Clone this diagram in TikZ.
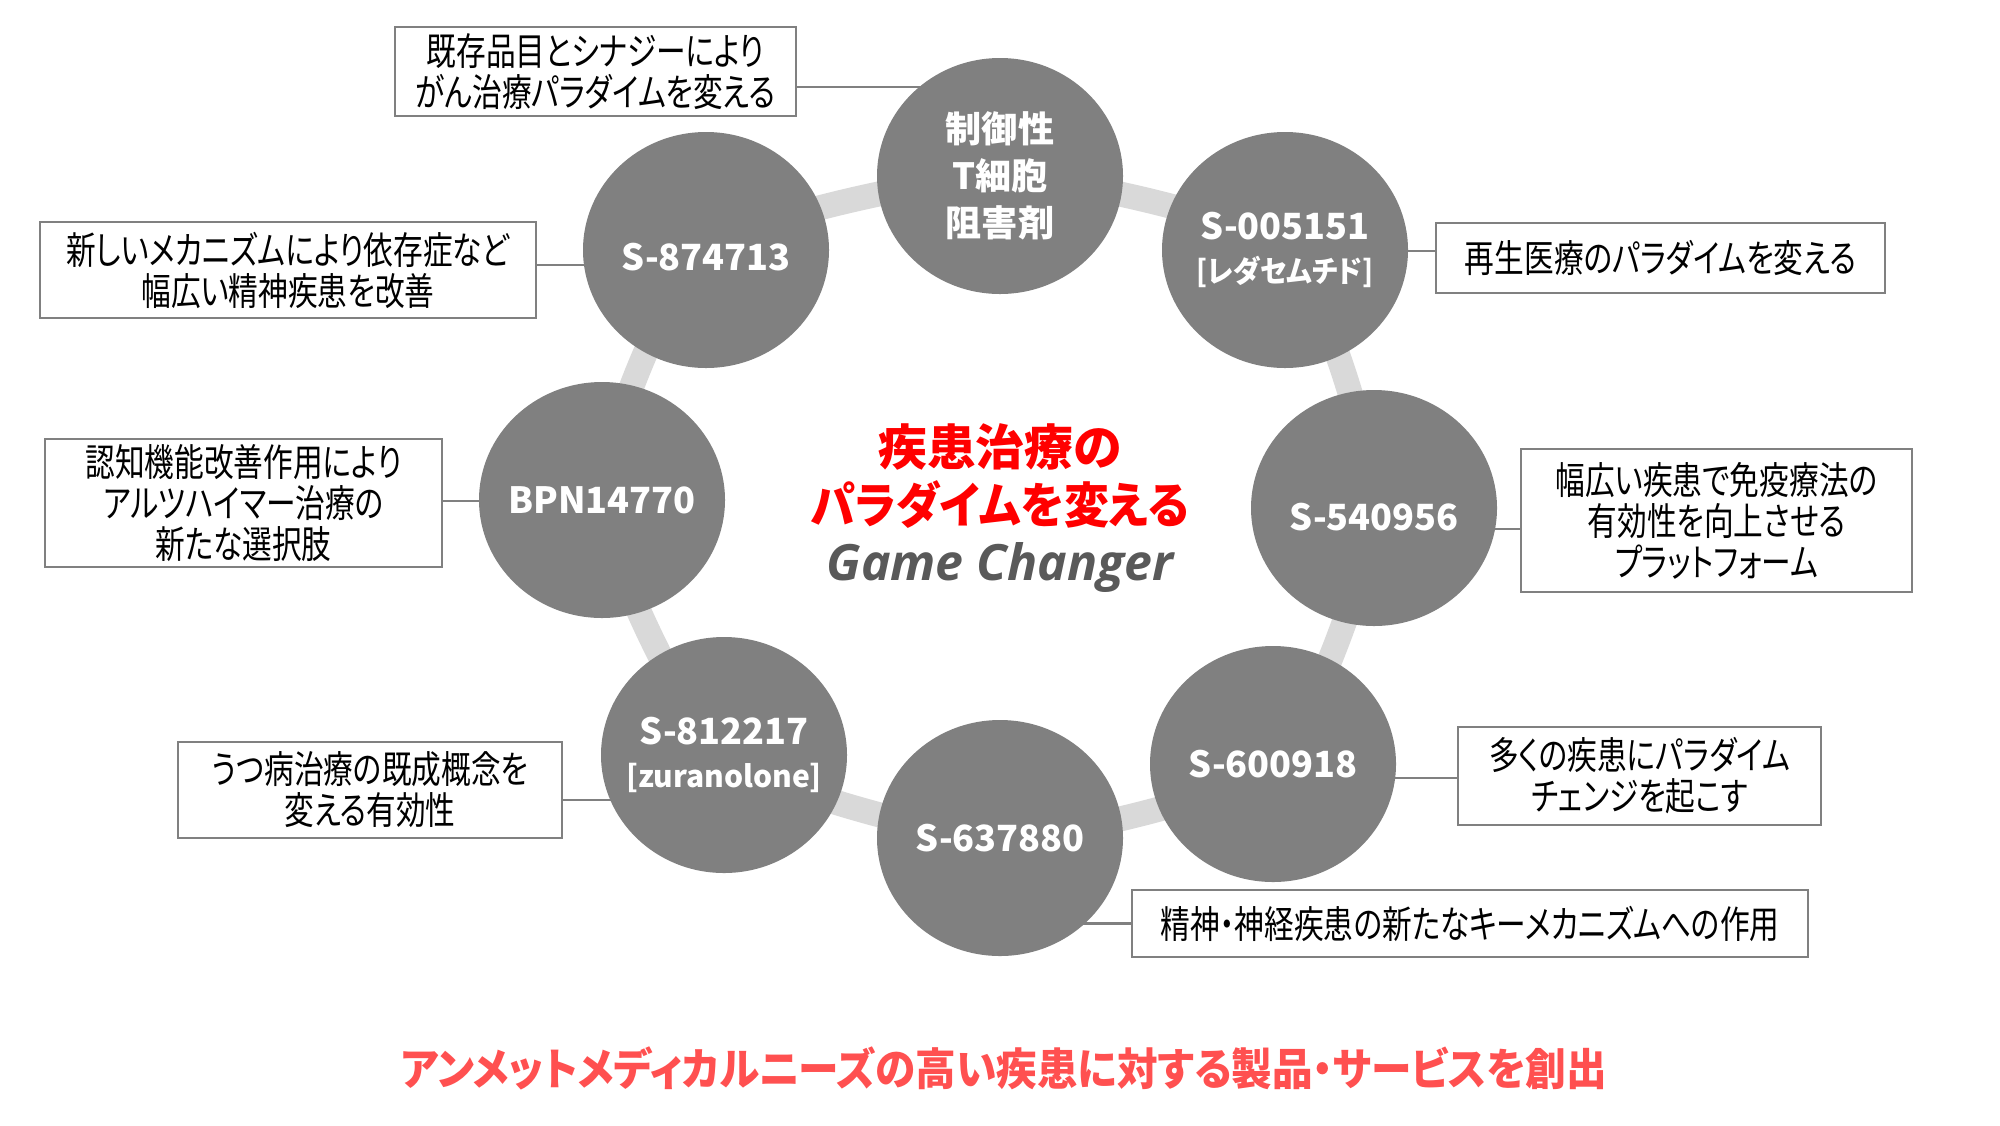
\documentclass[tikz,border=0pt]{standalone}
\usepackage{fontspec}
\usetikzlibrary{shapes.geometric,calc}
\setmainfont{Noto Sans CJK JP}
\newfontfamily\jp[RawFeature=+palt]{Noto Sans CJK JP}
\newfontfamily\jpn[RawFeature=+palt,FakeStretch=0.92]{Noto Sans CJK JP}
\newfontfamily\jpc[RawFeature=+palt,FakeStretch=0.78]{Noto Sans CJK JP}
\newfontfamily\gcfont{Open Sans}
\definecolor{cgray}{HTML}{808080}
\definecolor{ringgray}{HTML}{D9D9D9}
\definecolor{boxgray}{HTML}{808080}
\definecolor{titlered}{HTML}{FF0000}
\definecolor{bottomred}{HTML}{FF5050}
\definecolor{gctext}{HTML}{595959}
\pgfdeclarelayer{bg}
\pgfsetlayers{bg,main}
\begin{document}
\begin{tikzpicture}[x=0.36pt,y=-0.36pt,
  disc/.style={ellipse, fill=cgray, minimum width=88.56pt, minimum height=84.96pt,
    inner sep=-14pt, text=white, align=center,
    font=\jp\bfseries\fontsize{13pt}{16.9pt}\selectfont},
  disctwo/.style={disc, font=\jp\bfseries\fontsize{13pt}{15.5pt}\selectfont},
  callout/.style={draw=boxgray, line width=0.9pt, fill=white, inner sep=0pt,
    align=center, text=black, font=\jpc\fontsize{13.7pt}{14.8pt}\selectfont},
  conn/.style={draw=cgray, line width=0.75pt},
  ringline/.style={draw=ringgray, line width=9pt},
  title/.style={text=titlered, inner sep=0pt, font=\jp\bfseries\fontsize{17.6pt}{21pt}\selectfont},
  titlenarrow/.style={title, font=\jpn\bfseries\fontsize{17.6pt}{21pt}\selectfont},
  gc/.style={text=gctext, inner sep=0pt, font=\gcfont\bfseries\itshape\fontsize{18pt}{21pt}\selectfont},
  bottom/.style={text=bottomred, inner sep=0pt, font=\jpn\bfseries\fontsize{15.9pt}{19pt}\selectfont}]
\useasboundingbox (0,0) rectangle (2000,1125);

% discs
\node[disc] (c0) at (1000,176) {制御性\\T細胞\\阻害剤};
\node[disctwo] (c1) at (1285,250) {S-005151\\{\jpn\fontsize{10.8pt}{13pt}\selectfont [レダセムチド]}};
\node[disc] (c2) at (1374,508) {\raisebox{-3.2pt}[\height][\depth]{S-540956}};
\node[disc] (c3) at (1273,764) {S-600918};
\node[disc] (c4) at (1000,838) {S-637880};
\node[disctwo] (c5) at (724,755) {S-812217\\{\fontsize{10.8pt}{13pt}\selectfont [zuranolone]}};
\node[disc] (c6) at (602,500) {BPN14770};
\node[disc] (c7) at (706,250) {\raisebox{-2.5pt}[\height][\depth]{S-874713}};

% callouts
\node[callout, minimum width=144.4pt, minimum height=32.0pt] (b1) at (595.5,71.5) {既存品目とシナジーにより\\がん治療パラダイムを変える};
\node[callout, minimum width=178.6pt, minimum height=34.6pt] (b2) at (288,270) {新しいメカニズムにより依存症など\\幅広い精神疾患を改善};
\node[callout, minimum width=142.9pt, minimum height=46.1pt] (b3) at (243.5,503) {認知機能改善作用により\\アルツハイマー治療の\\新たな選択肢};
\node[callout, minimum width=161.6pt, minimum height=25.2pt] (b4) at (1660.5,258) {再生医療のパラダイムを変える};
\node[callout, minimum width=140.8pt, minimum height=51.5pt] (b5) at (1716.5,520.5) {幅広い疾患で免疫療法の\\有効性を向上させる\\プラットフォーム};
\node[callout, minimum width=130.7pt, minimum height=35.3pt] (b6) at (1639.5,776) {多くの疾患にパラダイム\\チェンジを起こす};
\node[callout, minimum width=243.4pt, minimum height=24.1pt] (b7) at (1470,923.5) {精神・神経疾患の新たなキーメカニズムへの作用};
\node[callout, minimum width=138.2pt, minimum height=34.6pt] (b8) at (370,790) {うつ病治療の既成概念を\\変える有効性};

% centre title
\node[title] (t1) at (1000,447) {疾患治療の};
\node[titlenarrow] (t2) at (1000,505) {パラダイムを変える};
\node[gc] (t3) at (1000,567) {Game Changer};

% bottom line
\node[bottom] (bt) at (1004,1068) {アンメットメディカルニーズの高い疾患に対する製品・サービスを創出};

% connector start points
\coordinate (k1) at ($(b1.east)+(0,15.5)$);
\coordinate (k2) at ($(b2.east)+(0,-5)$);
\coordinate (k3) at ($(b3.east)+(0,-2)$);
\coordinate (k4) at ($(b4.west)+(0,-7)$);
\coordinate (k5) at ($(b5.west)+(0,8.5)$);
\coordinate (k6) at ($(b6.west)+(0,2)$);
\coordinate (k7) at (b7.west);
\coordinate (k8) at ($(b8.east)+(0,10)$);

\begin{pgfonlayer}{bg}
  \fill[white] (0,0) rectangle (2000,1125);
  \draw[ringline] plot[smooth cycle, tension=0.35] coordinates
    {(c0.center) (c1.center) (c2.center) (c3.center) (c4.center) (c5.center) (c6.center) (c7.center)};
  \draw[conn] (k1) -- (k1 -| c0.center);
  \draw[conn] (k2) -- (k2 -| c7.center);
  \draw[conn] (k3) -- (k3 -| c6.center);
  \draw[conn] (k4) -- (k4 -| c1.center);
  \draw[conn] (k5) -- (k5 -| c2.center);
  \draw[conn] (k6) -- (k6 -| c3.center);
  \draw[conn] (k7) -- (k7 -| c4.center);
  \draw[conn] (k8) -- (k8 -| c5.center);
\end{pgfonlayer}
\end{tikzpicture}
\end{document}
